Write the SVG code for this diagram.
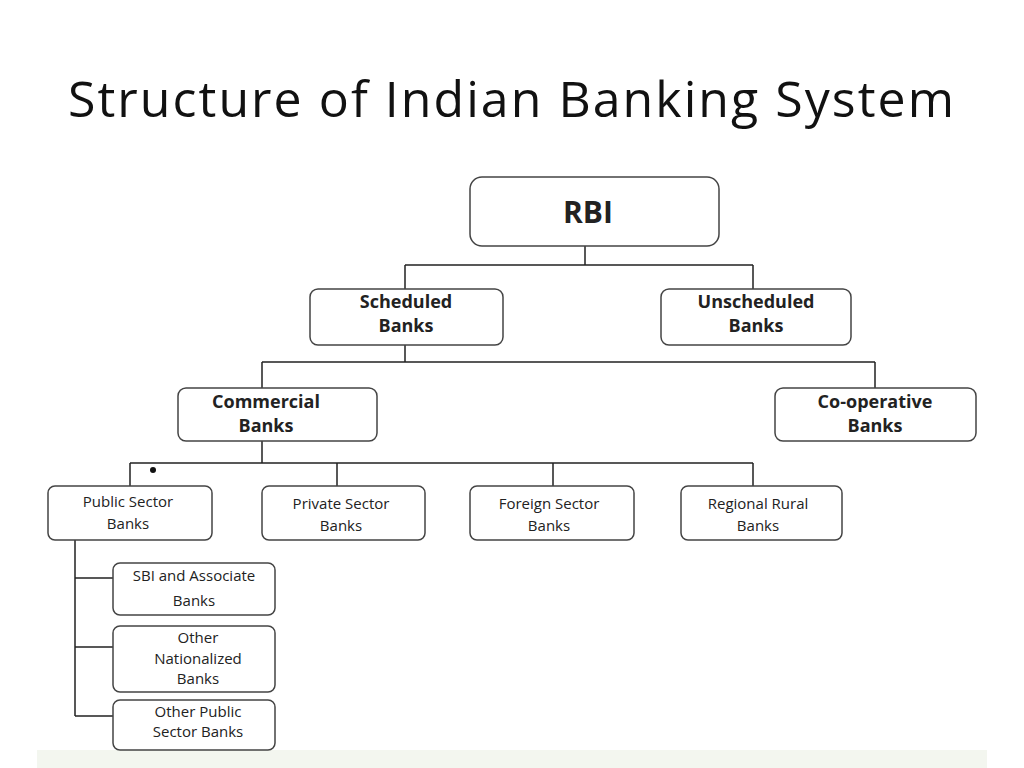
<svg xmlns="http://www.w3.org/2000/svg" width="1024" height="768" viewBox="0 0 1024 768">
<style>
.b{fill:#fff;stroke:#444;stroke-width:1.5}
.t{font-family:"Open Sans","Liberation Sans",sans-serif;text-anchor:middle;fill:#222}
.h{font-weight:bold;font-size:18px}
.s{font-size:15px}
.c{fill:none;stroke:#222;stroke-width:1.5}
</style>
<rect width="1024" height="768" fill="#fff"/>
<rect x="37" y="750" width="950" height="18" fill="#f3f6ef"/>
<text x="511" y="117" class="t" style="font-size:50px;fill:#111;font-family:'Open Sans','Liberation Sans',sans-serif" textLength="886">Structure of Indian Banking System</text>
<g id="connectors" class="c">
<path d="M585 246V265M405 265H753M405 265V289M753 265V289"/>
<path d="M405 345V362M262 362H875M262 362V388M875 362V388"/>
<path d="M262 441V463M130 463H753M130 463V486M337 463V486M553 463V486M753 463V486"/>
<path d="M75 540V716M75 578H113M75 647H113M75 716H113"/>
</g>
<circle cx="153" cy="470" r="3" fill="#111"/>
<g id="rbi"><rect class="b" x="470" y="177" width="249" height="69" rx="12"/><text class="t" x="588" y="223" style="font-weight:bold;font-size:30px">RBI</text></g>
<g id="scheduled"><rect class="b" x="310" y="289" width="193" height="56" rx="8"/><text class="t h" x="406" y="308">Scheduled</text><text class="t h" x="406" y="332">Banks</text></g>
<g id="unscheduled"><rect class="b" x="661" y="289" width="190" height="56" rx="8"/><text class="t h" x="756" y="308">Unscheduled</text><text class="t h" x="756" y="332">Banks</text></g>
<g id="commercial"><rect class="b" x="178" y="388" width="199" height="53" rx="8"/><text class="t h" x="266" y="408">Commercial</text><text class="t h" x="266" y="432">Banks</text></g>
<g id="cooperative"><rect class="b" x="775" y="388" width="201" height="53" rx="8"/><text class="t h" x="875" y="408">Co-operative</text><text class="t h" x="875" y="432">Banks</text></g>
<g id="public"><rect class="b" x="48" y="486" width="164" height="54" rx="7"/><text class="t s" x="128" y="507">Public Sector</text><text class="t s" x="128" y="529">Banks</text></g>
<g id="private"><rect class="b" x="262" y="486" width="163" height="54" rx="7"/><text class="t s" x="341" y="509">Private Sector</text><text class="t s" x="341" y="531">Banks</text></g>
<g id="foreign"><rect class="b" x="470" y="486" width="164" height="54" rx="7"/><text class="t s" x="549" y="509">Foreign Sector</text><text class="t s" x="549" y="531">Banks</text></g>
<g id="regional"><rect class="b" x="681" y="486" width="161" height="54" rx="7"/><text class="t s" x="758" y="509">Regional Rural</text><text class="t s" x="758" y="531">Banks</text></g>
<g id="sbi"><rect class="b" x="113" y="563" width="162" height="52" rx="7"/><text class="t s" x="194" y="581">SBI and Associate</text><text class="t s" x="194" y="606">Banks</text></g>
<g id="nationalized"><rect class="b" x="113" y="626" width="162" height="66" rx="7"/><text class="t s" x="198" y="643">Other</text><text class="t s" x="198" y="664">Nationalized</text><text class="t s" x="198" y="684">Banks</text></g>
<g id="otherpublic"><rect class="b" x="113" y="700" width="162" height="50" rx="7"/><text class="t s" x="198" y="717">Other Public</text><text class="t s" x="198" y="737">Sector Banks</text></g>
</svg>
